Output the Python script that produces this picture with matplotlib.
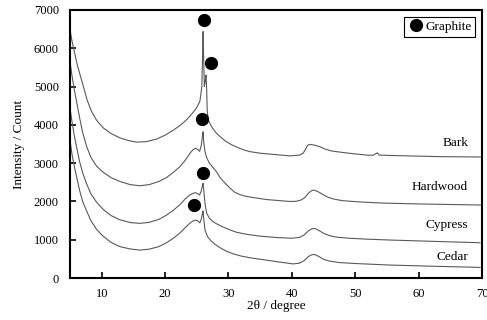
import matplotlib
matplotlib.use("Agg")
import matplotlib.pyplot as plt
from matplotlib.lines import Line2D

plt.rcParams["font.family"] = ["Liberation Serif", "DejaVu Serif"]

# --- data (2theta in degree, intensity in count) ---
bark_x = [5.0, 5.3, 5.7, 6.1, 6.6, 7.2, 7.7, 8.4, 9.2, 10.25, 11.5, 12.9, 14.2, 15.5,
          17.0, 18.7, 20.0, 21.3, 22.5, 23.5, 24.3, 25.0, 25.5, 25.8, 25.95, 26.0,
          26.05, 26.2, 26.35, 26.45, 26.55, 26.65, 26.8, 27.35, 28.0, 28.7, 29.5,
          30.5, 31.3, 32.5, 33.4, 35.0, 37.0, 39.7, 41.2, 41.8, 42.2, 42.5, 42.9,
          43.6, 44.4, 45.2, 46.2, 47.5, 49.5, 51.8, 52.8, 53.3, 53.5, 53.8, 57.0,
          63.4, 70.0]
bark_y = [6500, 6200, 5900, 5600, 5300, 4950, 4650, 4350, 4120, 3920, 3770, 3660, 3590,
          3550, 3560, 3630, 3730, 3860, 4000, 4150, 4300, 4450, 4620, 5000, 6000,
          6435, 6000, 5000, 5150, 5300, 5000, 4390, 4127, 3950, 3800, 3690, 3580,
          3480, 3420, 3340, 3300, 3260, 3230, 3190, 3210, 3260, 3380, 3470, 3490,
          3470, 3430, 3370, 3320, 3290, 3250, 3210, 3205, 3250, 3270, 3210, 3195,
          3170, 3160]

hard_x = [5.0, 5.3, 5.7, 6.05, 6.5, 7.0, 7.6, 8.3, 9.2, 10.25, 11.5, 12.9, 14.5, 16.0,
          17.5, 19.0, 20.2, 21.3, 22.3, 23.2, 23.9, 24.4, 24.8, 25.2, 25.45, 25.7,
          25.9, 26.0, 26.1, 26.3, 26.55, 27.0, 27.6, 28.1, 28.7, 29.5, 30.3, 31.0,
          31.8, 32.6, 33.4, 36.0, 39.7, 40.7, 41.5, 42.1, 42.7, 43.2, 43.6, 44.2,
          44.9, 45.7, 46.7, 48.0, 50.5, 53.9, 60.0, 69.9]
hard_y = [5650, 5300, 4900, 4600, 4200, 3800, 3450, 3150, 2920, 2760, 2620, 2520, 2440,
          2410, 2440, 2520, 2620, 2760, 2900, 3080, 3250, 3350, 3390, 3350, 3310,
          3450, 3700, 3820, 3550, 3300, 3150, 3000, 2880, 2780, 2620, 2470, 2340,
          2240, 2180, 2140, 2115, 2050, 2000, 2005, 2040, 2110, 2230, 2290, 2295,
          2250, 2180, 2110, 2060, 2020, 1990, 1960, 1935, 1907]

cyp_x = [5.0, 5.3, 5.7, 6.05, 6.5, 7.0, 7.6, 8.3, 9.2, 10.25, 11.5, 12.9, 14.5, 16.0,
         17.5, 19.0, 20.2, 21.3, 22.3, 23.2, 23.9, 24.4, 24.8, 25.2, 25.45, 25.7,
         25.9, 26.0, 26.1, 26.3, 26.55, 27.0, 27.6, 28.3, 29.2, 30.2, 31.2, 32.3,
         33.4, 35.0, 37.5, 40.0, 41.2, 41.9, 42.6, 43.2, 43.7, 44.3, 45.0, 45.9,
         47.0, 49.0, 52.0, 55.5, 62.0, 69.7]
cyp_y = [4450, 4100, 3700, 3420, 3050, 2750, 2470, 2200, 1980, 1790, 1630, 1520, 1450,
         1428, 1455, 1530, 1640, 1770, 1910, 2070, 2170, 2210, 2230, 2200, 2170,
         2270, 2420, 2473, 2300, 1950, 1700, 1560, 1470, 1400, 1330, 1260, 1200,
         1160, 1130, 1095, 1060, 1040, 1060, 1120, 1230, 1290, 1290, 1240, 1170,
         1110, 1070, 1040, 1015, 993, 960, 923]

cedar_x = [5.0, 5.3, 5.7, 6.05, 6.5, 7.0, 7.6, 8.3, 9.2, 10.25, 11.5, 12.9, 14.5, 16.0,
           17.5, 19.0, 20.2, 21.3, 22.3, 23.2, 23.9, 24.4, 24.8, 25.2, 25.5, 25.75,
           25.9, 26.0, 26.1, 26.3, 26.7, 27.2, 27.8, 28.7, 29.7, 30.8, 32.0, 33.4,
           35.5, 38.0, 40.2, 41.2, 41.9, 42.6, 43.2, 43.7, 44.3, 45.0, 46.0, 47.5,
           50.0, 55.5, 62.0, 69.7]
cedar_y = [3600, 3250, 2900, 2640, 2300, 2000, 1760, 1500, 1270, 1090, 930, 820, 760,
           731, 755, 820, 920, 1040, 1170, 1320, 1430, 1490, 1515, 1490, 1440,
           1560, 1700, 1750, 1550, 1254, 1080, 980, 890, 790, 700, 630, 575, 530,
           480, 420, 370, 390, 450, 560, 615, 610, 560, 490, 440, 405,
           380, 340, 310, 279]

# graphite reflection markers
graphite_x = [26.1, 27.25, 25.75, 26.0, 24.6]
graphite_y = [6740, 5625, 4150, 2755, 1907]

names = ["Bark", "Hardwood", "Cypress", "Cedar"]
label_y = [3520, 2390, 1390, 560]

fig = plt.figure(figsize=(4.87, 3.2), dpi=100)
fig.patch.set_facecolor("white")
ax = fig.add_axes([0.1437, 0.131, 0.846, 0.838])

LINE = "#595959"
for xs, ys in [(bark_x, bark_y), (hard_x, hard_y), (cyp_x, cyp_y), (cedar_x, cedar_y)]:
    ax.plot(xs, ys, color=LINE, lw=0.8)

ax.plot(graphite_x, graphite_y, "o", color="black", ms=8.5, zorder=5)

for name, yy in zip(names, label_y):
    ax.text(67.8, yy, name, ha="right", va="center", fontsize=9.5)

ax.set_xlim(5, 70)
ax.set_ylim(0, 7000)
ax.set_xticks(range(10, 71, 10))
ax.set_yticks(range(0, 7001, 1000))
ax.tick_params(direction="in", length=4, width=1.2, labelsize=9)
ax.tick_params(axis="y", pad=8)
ax.tick_params(axis="x", pad=7)
for s in ax.spines.values():
    s.set_linewidth(1.5)

ax.set_xlabel("2θ / degree", fontsize=9.5, labelpad=0)
ax.set_ylabel("Intensity / Count", fontsize=9.5, labelpad=6)

h = Line2D([], [], marker="o", ls="none", color="black", ms=8.5)
leg = ax.legend([h], ["Graphite"], loc="upper right", fontsize=9.5, fancybox=False,
                edgecolor="black", framealpha=1, handletextpad=0.1, borderpad=0.3,
                handlelength=1.2, borderaxespad=0.5)
leg.get_frame().set_linewidth(0.8)

fig.savefig("out.png", dpi=100, facecolor="white")
